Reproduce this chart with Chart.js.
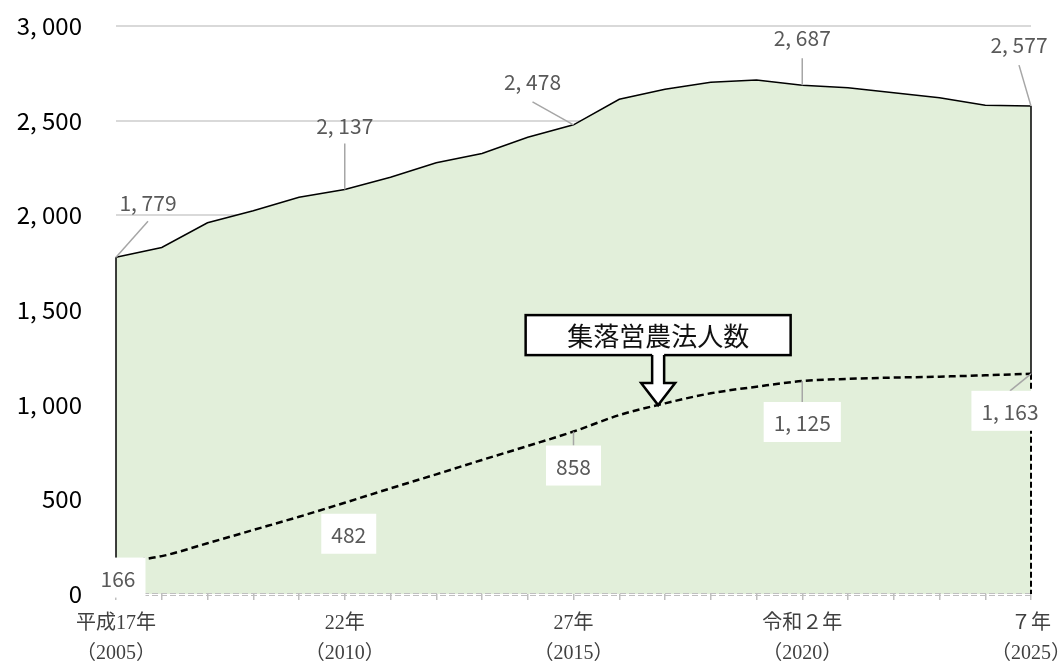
<!DOCTYPE html>
<html>
<head>
<meta charset="utf-8">
<script src="https://cdn.jsdelivr.net/npm/chart.js@4.4.0/dist/chart.umd.min.js"></script>
<style>
    html, body { margin: 0; padding: 0; background: #fff; }
</style>
</head>
<body>
<canvas id="myChart" width="1063" height="663"></canvas>
<script>
// data
const years = [2005, 2006, 2007, 2008, 2009, 2010, 2011, 2012, 2013, 2014, 2015,
    2016, 2017, 2018, 2019, 2020, 2021, 2022, 2023, 2024, 2025]
const farmers = [1779, 1830, 1961, 2024, 2095, 2137, 2201, 2278, 2327, 2412, 2478,
    2613, 2666, 2703, 2715, 2687, 2674, 2647, 2621, 2581, 2577]
const corporations = [166, 200, 268, 338, 408, 482, 558, 632, 708, 782, 858,
    945, 1007, 1060, 1095, 1125, 1136, 1143, 1148, 1155, 1163]
const eraLabels = ['平成17年', '22年', '27年', '令和２年', '７年']
const yearLabels = ['（2005）', '（2010）', '（2015）', '（2020）', '（2025）']
const yTicks = [0, 500, 1000, 1500, 2000, 2500, 3000]
const labelled = [0, 5, 10, 15, 20]
const calloutText = '集落営農法人数'

const fmt = n => n.toLocaleString('en-US').replace(',', ', ')
const labelFont = "21px 'Noto Sans CJK JP', 'Noto Sans', sans-serif"

// label placement: text offset (dx, dy) and leader start (lx, ly) from the point
const topOffsets = [[32, -54, 32, -36], [0, -63, 0, -46], [-41, -43, -41, -23], [0, -47, 0, -27], [-12, -61, -12, -41]]
// box offsets (dx, dy) and whether a leader line is drawn
const lowOffsets = [[2, 15, false], [4, 31, false], [0, 34, true], [0, 41, true], [-21, 37, true]]

const noPad = s => {
    s.paddingTop = 0
    s.paddingBottom = 0
    s.paddingLeft = 0
    s.paddingRight = 0
}

const extras = {
    id: 'extras',
    afterDatasetsDraw(chart) {
        const ctx = chart.ctx
        const x = chart.scales.x, y = chart.scales.y
        const top = chart.getDatasetMeta(0).data
        const low = chart.getDatasetMeta(1).data
        const y0 = y.getPixelForValue(0)
        const last = top.length - 1
        ctx.save()

        // axis base line
        ctx.strokeStyle = '#bfbfbf'
        ctx.lineWidth = 1
        ctx.setLineDash([6, 3])
        for (const off of [-0.5, 1.5]) {
            ctx.beginPath()
            ctx.moveTo(x.left, y0 + off)
            ctx.lineTo(x.right, y0 + off)
            ctx.stroke()
        }

        // area edges
        ctx.setLineDash([])
        ctx.strokeStyle = '#000'
        ctx.lineWidth = 1.5
        ctx.beginPath()
        ctx.moveTo(top[0].x, top[0].y)
        ctx.lineTo(top[0].x, y0)
        ctx.moveTo(top[last].x, top[last].y)
        ctx.lineTo(top[last].x, low[last].y)
        ctx.stroke()
        ctx.setLineDash([6, 3])
        ctx.lineWidth = 2
        ctx.beginPath()
        ctx.moveTo(low[last].x, low[last].y)
        ctx.lineTo(low[last].x, y0)
        ctx.stroke()
        ctx.setLineDash([])

        // callout
        const a = low[11], b = low[12]
        const tx = a.x + (b.x - a.x) * 0.85
        const ty = a.y + (b.y - a.y) * 0.85
        const bw = 265, bh = 40
        const bx = tx - bw / 2, by = ty - 90
        ctx.fillStyle = '#fff'
        ctx.strokeStyle = '#000'
        ctx.lineWidth = 2.5
        ctx.fillRect(bx, by, bw, bh)
        ctx.strokeRect(bx, by, bw, bh)
        const sw = 6, hw = 17, hy = ty - 22, sy = by + bh
        ctx.beginPath()
        ctx.moveTo(tx - sw, sy - 2)
        ctx.lineTo(tx - sw, hy)
        ctx.lineTo(tx - hw, hy)
        ctx.lineTo(tx, ty)
        ctx.lineTo(tx + hw, hy)
        ctx.lineTo(tx + sw, hy)
        ctx.lineTo(tx + sw, sy - 2)
        ctx.closePath()
        ctx.fill()
        ctx.beginPath()
        ctx.moveTo(tx - sw, sy)
        ctx.lineTo(tx - sw, hy)
        ctx.lineTo(tx - hw, hy)
        ctx.lineTo(tx, ty)
        ctx.lineTo(tx + hw, hy)
        ctx.lineTo(tx + sw, hy)
        ctx.lineTo(tx + sw, sy)
        ctx.lineJoin = 'miter'
        ctx.stroke()
        ctx.fillStyle = '#111'
        ctx.font = "26px 'Noto Sans CJK JP', sans-serif"
        ctx.textAlign = 'center'
        ctx.textBaseline = 'middle'
        ctx.fillText(calloutText, tx, by + bh / 2 + 1)

        // labels of the upper series
        ctx.font = labelFont
        labelled.forEach((idx, k) => {
            const p = top[idx]
            const [dx, dy, lx, ly] = topOffsets[k]
            ctx.strokeStyle = '#a6a6a6'
            ctx.lineWidth = 1.5
            ctx.beginPath()
            ctx.moveTo(p.x + lx, p.y + ly)
            ctx.lineTo(p.x, p.y)
            ctx.stroke()
            ctx.fillStyle = '#595959'
            ctx.fillText(fmt(farmers[idx]), p.x + dx, p.y + dy)
        })

        // labels of the lower series
        labelled.forEach((idx, k) => {
            const p = low[idx]
            const [dx, dy, leader] = lowOffsets[k]
            const txt = fmt(corporations[idx])
            const w = ctx.measureText(txt).width + 20, h = 40
            const cx = p.x + dx, cy = p.y + dy
            if (leader) {
                ctx.strokeStyle = '#a6a6a6'
                ctx.lineWidth = 1.5
                ctx.beginPath()
                ctx.moveTo(p.x, p.y)
                ctx.lineTo(cx, cy - h / 2)
                ctx.stroke()
            }
            ctx.fillStyle = '#fff'
            ctx.fillRect(cx - w / 2, cy - h / 2, w, h)
            ctx.fillStyle = '#595959'
            ctx.fillText(txt, cx, cy + 1)
        })
        ctx.restore()
    }
}

const ctx = document.getElementById('myChart')
const chart = new Chart(ctx, {
    type: 'line',
    data: {
        labels: years,
        datasets: [{
            label: '集落営農',
            data: farmers,
            fill: 'origin',
            backgroundColor: '#E2EFDA',
            borderColor: '#000',
            borderWidth: 1.5,
            tension: 0,
            pointRadius: 0,
            clip: false,
            order: 2,
        }, {
            label: calloutText,
            data: corporations,
            fill: false,
            borderColor: '#000',
            borderWidth: 2.5,
            borderDash: [7, 4],
            cubicInterpolationMode: 'monotone',
            pointRadius: 0,
            clip: false,
            order: 1,
        }],
    },
    options: {
        responsive: false,
        devicePixelRatio: 1,
        animation: false,
        layout: { padding: { left: 0, right: 32, top: 26, bottom: 0 } },
        plugins: { legend: { display: false }, tooltip: { enabled: false } },
        scales: {
            x: {
                offset: false,
                border: { display: false },
                grid: {
                    drawOnChartArea: false,
                    drawTicks: true,
                    tickLength: 6,
                    color: '#bfbfbf',
                    lineWidth: 1.5,
                },
                ticks: {
                    autoSkip: false,
                    maxRotation: 0,
                    padding: 9,
                    color: '#404040',
                    font: { family: "'Liberation Serif', 'Noto Sans CJK JP', serif", size: 20, lineHeight: 1.5 },
                    callback: (v, i) => {
                        const k = labelled.indexOf(i)
                        return k < 0 ? '' : [eraLabels[k], yearLabels[k]]
                    },
                },
                afterFit: s => { s.height = 69; noPad(s) },
            },
            y: {
                min: 0,
                max: 3000,
                border: { display: false },
                grid: {
                    drawTicks: false,
                    color: c => c.tick.value === 0 ? 'rgba(0,0,0,0)' : '#d9d9d9',
                    lineWidth: 2,
                },
                afterBuildTicks: s => { s.ticks = yTicks.map(v => ({ value: v })) },
                ticks: {
                    padding: 34,
                    color: '#000',
                    font: { family: "'Noto Sans CJK JP', 'Noto Sans', sans-serif", size: 24 },
                    callback: v => fmt(v),
                },
                afterFit: s => { s.width = 116; noPad(s) },
            },
        },
    },
    plugins: [extras],
})
</script>
</body>
</html>
